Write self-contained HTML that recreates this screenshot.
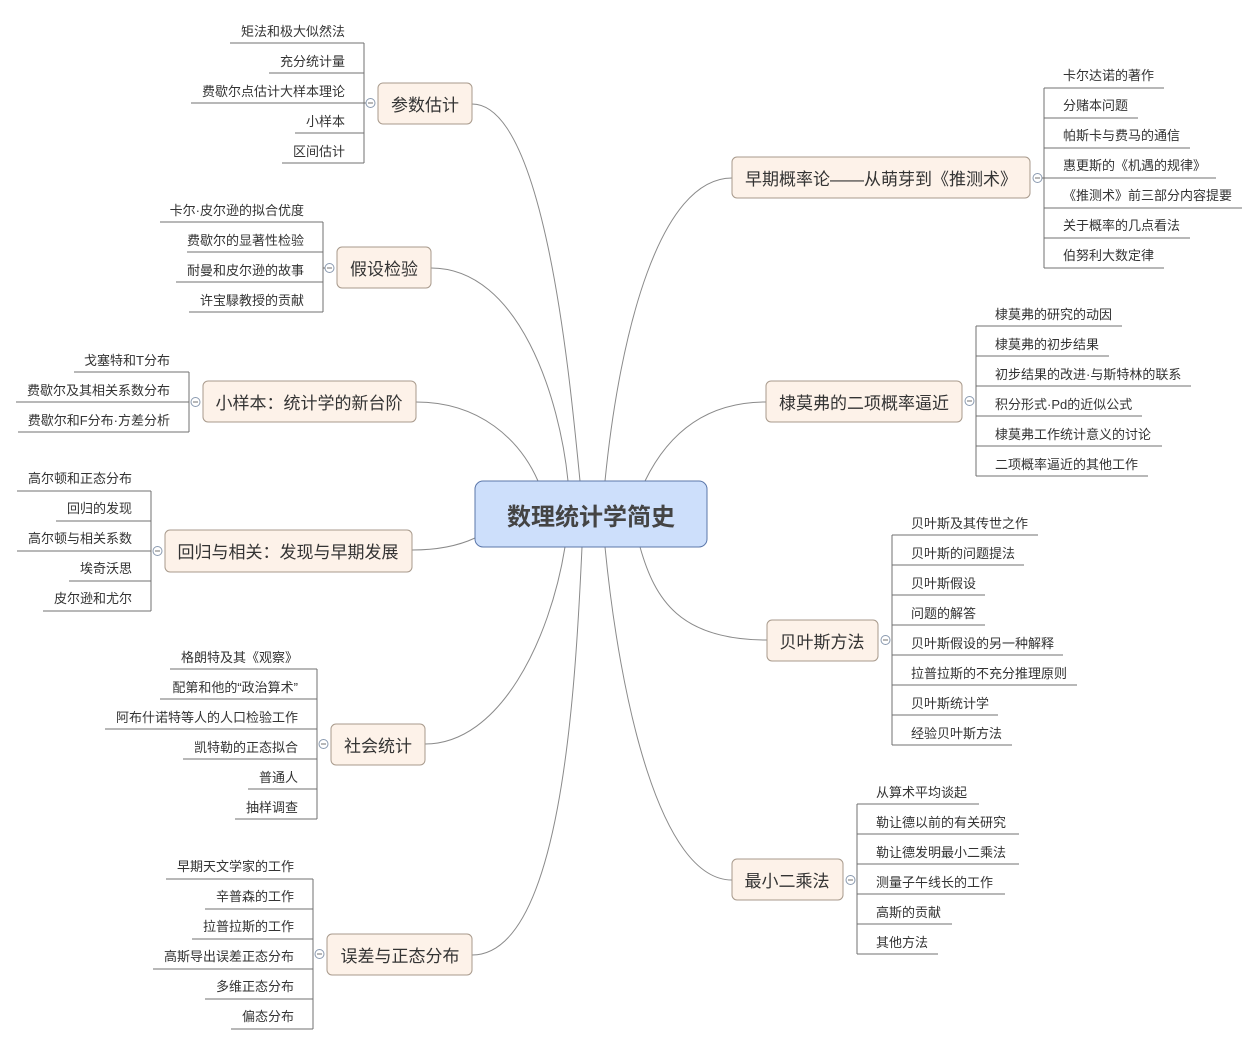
<!DOCTYPE html>
<html><head><meta charset="utf-8"><style>
html,body{margin:0;padding:0;background:#fff}
svg{display:block}
text{font-family:"Liberation Sans","Noto Sans CJK SC",sans-serif;fill:#333}
.l{font-size:13px}
.b{font-size:17px}
.u{stroke:#707070;stroke-width:1;fill:none}
.c{stroke:#8a8a8a;stroke-width:1;fill:none}
.bx{fill:#fdf2e9;stroke:#a89a8c;stroke-width:1}
.ci{fill:#fff;stroke:#8a9ab0;stroke-width:1}
</style></head><body>
<svg width="1259" height="1044" viewBox="0 0 1259 1044" xmlns="http://www.w3.org/2000/svg">
<!-- connectors -->
<path class="c" d="M472,104 C545,104 570,380 580,481"/>
<path class="c" d="M431,268 C520,268 560,400 568,481"/>
<path class="c" d="M416,402 C480,402 520,440 538,481"/>
<path class="c" d="M412,550 C440,550 460,545 475,538"/>
<path class="c" d="M425,744 C500,744 550,640 565,547"/>
<path class="c" d="M472,955 C560,955 575,700 582,547"/>
<path class="c" d="M732,178 C660,178 620,330 605,481"/>
<path class="c" d="M766,402 C700,402 665,440 645,481"/>
<path class="c" d="M767,640 C680,640 655,600 640,547"/>
<path class="c" d="M732,880 C660,880 620,700 605,547"/>

<!-- center -->
<rect x="475" y="481" width="232" height="66" rx="8" fill="#cddffb" stroke="#5b77aa" stroke-width="1"/>
<text x="591" y="525" text-anchor="middle" style="font-size:24px;font-weight:bold;fill:#444">数理统计学简史</text>

<!-- G1 参数估计 -->
<rect class="bx" x="378" y="83" width="94" height="41" rx="5"/>
<text class="b" x="425" y="111" text-anchor="middle">参数估计</text>
<line class="u" x1="364" y1="103" x2="366" y2="103"/><circle class="ci" cx="370.5" cy="103" r="4.5"/><line class="u" x1="368" y1="103" x2="373" y2="103"/>
<path class="u" d="M364,43V163"/>
<path class="u" d="M230,43H364M269,73H364M191,103H364M295,133H364M282,163H364"/>
<g class="l" text-anchor="end"><text x="345" y="36">矩法和极大似然法</text><text x="345" y="66">充分统计量</text><text x="345" y="96">费歇尔点估计大样本理论</text><text x="345" y="126">小样本</text><text x="345" y="156">区间估计</text></g>

<!-- G2 假设检验 -->
<rect class="bx" x="337" y="247" width="94" height="41" rx="5"/>
<text class="b" x="384" y="275" text-anchor="middle">假设检验</text>
<circle class="ci" cx="329.5" cy="268" r="4.5"/><line class="u" x1="327" y1="268" x2="332" y2="268"/>
<path class="u" d="M323,222V312M323,268H325"/>
<path class="u" d="M160,222H323M187,252H323M176,282H323M189,312H323"/>
<g class="l" text-anchor="end"><text x="304" y="215">卡尔·皮尔逊的拟合优度</text><text x="304" y="245">费歇尔的显著性检验</text><text x="304" y="275">耐曼和皮尔逊的故事</text><text x="304" y="305">许宝騄教授的贡献</text></g>

<!-- G3 小样本 -->
<rect class="bx" x="203" y="381" width="213" height="41" rx="5"/>
<text class="b" x="309" y="409" text-anchor="middle">小样本：统计学的新台阶</text>
<circle class="ci" cx="195.5" cy="402" r="4.5"/><line class="u" x1="193" y1="402" x2="198" y2="402"/>
<path class="u" d="M189,372V432"/>
<path class="u" d="M74,372H189M16,402H189M18,432H189"/>
<g class="l" text-anchor="end"><text x="170" y="365">戈塞特和T分布</text><text x="170" y="395">费歇尔及其相关系数分布</text><text x="170" y="425">费歇尔和F分布·方差分析</text></g>

<!-- G4 回归 -->
<rect class="bx" x="165" y="530" width="247" height="42" rx="5"/>
<text class="b" x="288" y="558" text-anchor="middle">回归与相关：发现与早期发展</text>
<circle class="ci" cx="157.5" cy="551" r="4.5"/><line class="u" x1="155" y1="551" x2="160" y2="551"/>
<path class="u" d="M151,491V611"/>
<path class="u" d="M17,491H151M56,521H151M17,551H151M69,581H151M43,611H151"/>
<g class="l" text-anchor="end"><text x="132" y="483">高尔顿和正态分布</text><text x="132" y="513">回归的发现</text><text x="132" y="543">高尔顿与相关系数</text><text x="132" y="573">埃奇沃思</text><text x="132" y="603">皮尔逊和尤尔</text></g>

<!-- G5 社会统计 -->
<rect class="bx" x="331" y="724" width="94" height="41" rx="5"/>
<text class="b" x="378" y="752" text-anchor="middle">社会统计</text>
<circle class="ci" cx="323.5" cy="744" r="4.5"/><line class="u" x1="321" y1="744" x2="326" y2="744"/>
<path class="u" d="M317,669V819"/>
<path class="u" d="M170,669H317M160,699H317M105,729H317M183,759H317M248,789H317M235,819H317"/>
<g class="l" text-anchor="end"><text x="298" y="662">格朗特及其《观察》</text><text x="298" y="692">配第和他的“政治算术”</text><text x="298" y="722">阿布什诺特等人的人口检验工作</text><text x="298" y="752">凯特勒的正态拟合</text><text x="298" y="782">普通人</text><text x="298" y="812">抽样调查</text></g>

<!-- G6 误差 -->
<rect class="bx" x="327" y="934" width="145" height="41" rx="5"/>
<text class="b" x="400" y="962" text-anchor="middle">误差与正态分布</text>
<circle class="ci" cx="319.5" cy="954" r="4.5"/><line class="u" x1="317" y1="954" x2="322" y2="954"/>
<path class="u" d="M313,879V1029"/>
<path class="u" d="M166,879H313M205,909H313M192,939H313M153,969H313M205,999H313M231,1029H313"/>
<g class="l" text-anchor="end"><text x="294" y="871">早期天文学家的工作</text><text x="294" y="901">辛普森的工作</text><text x="294" y="931">拉普拉斯的工作</text><text x="294" y="961">高斯导出误差正态分布</text><text x="294" y="991">多维正态分布</text><text x="294" y="1021">偏态分布</text></g>

<!-- G7 早期 -->
<rect class="bx" x="732" y="157" width="298" height="41" rx="5"/>
<text class="b" x="881" y="185" text-anchor="middle">早期概率论——从萌芽到《推测术》</text>
<circle class="ci" cx="1037.5" cy="178" r="4.5"/><line class="u" x1="1035" y1="178" x2="1040" y2="178"/>
<path class="u" d="M1042,178H1044M1044,88V268"/>
<path class="u" d="M1044,88H1164M1044,118H1138M1044,148H1190M1044,178H1216M1044,208H1242M1044,238H1190M1044,268H1164"/>
<g class="l"><text x="1063" y="80">卡尔达诺的著作</text><text x="1063" y="110">分赌本问题</text><text x="1063" y="140">帕斯卡与费马的通信</text><text x="1063" y="170">惠更斯的《机遇的规律》</text><text x="1063" y="200">《推测术》前三部分内容提要</text><text x="1063" y="230">关于概率的几点看法</text><text x="1063" y="260">伯努利大数定律</text></g>

<!-- G8 棣莫弗 -->
<rect class="bx" x="766" y="381" width="196" height="41" rx="5"/>
<text class="b" x="864" y="409" text-anchor="middle">棣莫弗的二项概率逼近</text>
<circle class="ci" cx="969.5" cy="401" r="4.5"/><line class="u" x1="967" y1="401" x2="972" y2="401"/>
<path class="u" d="M976,326V476"/>
<path class="u" d="M976,326H1122M976,356H1109M976,386H1191M976,416H1142M976,446H1162M976,476H1148"/>
<g class="l"><text x="995" y="319">棣莫弗的研究的动因</text><text x="995" y="349">棣莫弗的初步结果</text><text x="995" y="379">初步结果的改进·与斯特林的联系</text><text x="995" y="409">积分形式·Pd的近似公式</text><text x="995" y="439">棣莫弗工作统计意义的讨论</text><text x="995" y="469">二项概率逼近的其他工作</text></g>

<!-- G9 贝叶斯 -->
<rect class="bx" x="767" y="620" width="111" height="41" rx="5"/>
<text class="b" x="822" y="648" text-anchor="middle">贝叶斯方法</text>
<circle class="ci" cx="885.5" cy="640" r="4.5"/><line class="u" x1="883" y1="640" x2="888" y2="640"/>
<path class="u" d="M892,535V745"/>
<path class="u" d="M892,535H1038M892,565H1024M892,595H985M892,625H985M892,655H1063M892,685H1077M892,715H998M892,745H1012"/>
<g class="l"><text x="911" y="528">贝叶斯及其传世之作</text><text x="911" y="558">贝叶斯的问题提法</text><text x="911" y="588">贝叶斯假设</text><text x="911" y="618">问题的解答</text><text x="911" y="648">贝叶斯假设的另一种解释</text><text x="911" y="678">拉普拉斯的不充分推理原则</text><text x="911" y="708">贝叶斯统计学</text><text x="911" y="738">经验贝叶斯方法</text></g>

<!-- G10 最小二乘 -->
<rect class="bx" x="732" y="859" width="111" height="41" rx="5"/>
<text class="b" x="787" y="887" text-anchor="middle">最小二乘法</text>
<circle class="ci" cx="850.5" cy="880" r="4.5"/><line class="u" x1="848" y1="880" x2="853" y2="880"/>
<path class="u" d="M857,804V954"/>
<path class="u" d="M857,804H979M857,834H1019M857,864H1019M857,894H1005M857,924H952M857,954H938"/>
<g class="l"><text x="876" y="797">从算术平均谈起</text><text x="876" y="827">勒让德以前的有关研究</text><text x="876" y="857">勒让德发明最小二乘法</text><text x="876" y="887">测量子午线长的工作</text><text x="876" y="917">高斯的贡献</text><text x="876" y="947">其他方法</text></g>
</svg>
</body></html>
